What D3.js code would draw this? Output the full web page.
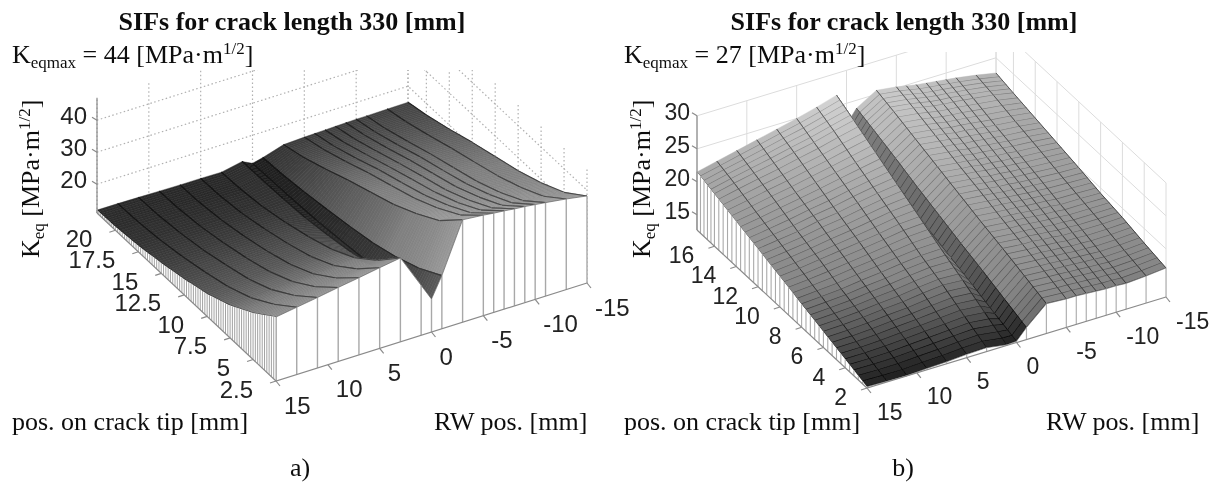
<!DOCTYPE html>
<html><head><meta charset="utf-8">
<script src="https://cdn.jsdelivr.net/npm/d3@7"></script>
<style>html,body{margin:0;background:#fff}svg{display:block}</style></head>
<body><svg id="c" width="1218" height="484"></svg>
<script>
// --- data ---
const title = "SIFs for crack length 330 [mm]";
const rwPositions = [15,13,11,9,7,5,3,1,0,-1,-3,-5,-6,-7,-8,-9,-10,-11,-13,-15];
const rwTicks = [15,10,5,0,-5,-10,-15];

const crackRowsA = [22,20,17.5,15,12.5,10,7.5,5,2.5];
const crackTicksA = [2.5,5,7.5,10,12.5,15,17.5,20];
const keqTicksA = [20,30,40];
const keqA = [
 [11.9,12.1,12.9,14.2,15.9,18,21.1,25.5,31],
 [11.9,12.1,12.9,14.3,16.1,18.3,21.5,26.2,32],
 [11.8,12,12.9,14.3,16.3,18.6,22,26.9,33],
 [11.7,11.9,12.8,14.4,16.4,18.9,22.5,27.6,34.1],
 [11.6,11.8,12.8,14.4,16.5,19.1,22.9,28.3,35.1],
 [11.6,11.8,12.8,14.6,16.8,19.5,23.4,29.1,36.2],
 [11.5,11.8,12.8,14.6,16.9,19.7,23.8,29.7,37.2],
 [12.8,12.9,13.2,13.8,15,16.5,19,22.5,26.6],
 [11.2,11.4,11.7,12.2,13,14,15.5,17.8,21.3],
 [12,12.4,13.4,14.6,16,17.6,20,23.2,27.6],
 [14,15.7,18.6,21.8,24.7,27.6,31.4,36,43],
 [14.3,16,18.8,21.9,24.7,27.5,31.2,35.7,42.4],
 [14.4,16,18.8,21.9,24.6,27.4,31,35.4,42],
 [14.5,16.1,18.9,21.8,24.6,27.3,30.8,35.2,41.7],
 [14.6,16.2,18.9,21.8,24.5,27.1,30.6,34.9,41.3],
 [14.7,16.3,18.9,21.8,24.4,27,30.5,34.7,41],
 [14.8,16.3,18.9,21.8,24.3,26.9,30.3,34.4,40.6],
 [14.8,16.3,18.9,21.7,24.2,26.7,30,34.1,40.2],
 [14.9,16.4,18.8,21.5,23.9,26.4,29.5,33.4,39.3],
 [15,16.4,18.7,21.3,23.6,25.9,28.9,32.6,38.2]
];

const crackRowsB = [17.6,16,14,12,10,8,6,4,2];
const crackTicksB = [2,4,6,8,10,12,14,16];
const keqTicksB = [15,20,25,30];
const keqB = [
 [21.5,20.6,19.5,18.4,17.3,16.2,15.1,14,12.9],
 [22.2,21.3,20,18.8,17.6,16.4,15.2,14,12.8],
 [22.9,21.9,20.6,19.2,18,16.6,15.4,14.1,12.75],
 [23.6,22.5,21.1,19.8,18.4,17,15.7,14.3,12.9],
 [24.3,23.2,21.7,20.2,18.8,17.3,15.9,14.5,13],
 [25,23.8,22.3,20.8,19.2,17.7,16.3,14.7,13.2],
 [25.8,24.6,22.9,21.3,19.7,18,16.6,14.9,13.3],
 [26.7,25.3,23.5,21.7,19.9,18.1,16.4,14.6,12.8],
 [21.8,20.9,19.8,18.6,17.4,16.3,15.2,14,12.9],
 [23.8,22.9,21.7,20.4,19.2,18,16.9,15.7,14.5],
 [25.6,24.8,23.7,22.6,21.5,20.4,19.4,18.3,17.2],
 [25.2,24.4,23.3,22.2,21.2,20.1,19.1,18.1,17],
 [24.9,24.1,23.1,22.1,21,20,19.1,18,17],
 [24.6,23.8,22.8,21.8,20.8,19.9,18.9,17.9,16.9],
 [24.4,23.6,22.7,21.7,20.7,19.7,18.8,17.8,16.8],
 [24.2,23.5,22.5,21.5,20.5,19.6,18.6,17.7,16.7],
 [24,23.3,22.3,21.4,20.4,19.5,18.6,17.6,16.7],
 [23.8,23.1,22.1,21.2,20.3,19.3,18.5,17.5,16.6],
 [23.3,22.7,21.8,21,20.1,19.3,18.5,17.6,16.8],
 [22.7,22.1,21.4,20.7,20,19.2,18.6,17.8,17.1]
];

// --- drawing ---
const svg = d3.select("#c");
const sans = "'Liberation Sans',Arial,sans-serif", serif = "'Liberation Serif','Times New Roman',serif";
const defs = svg.append("defs");
const addBlur=(id,s)=>defs.append("filter").attr("id",id).attr("x","-5%").attr("y","-5%").attr("width","110%").attr("height","110%")
  .append("feGaussianBlur").attr("stdDeviation",s);
addBlur("softa",0.6); addBlur("softb",0.4); addBlur("softT",0.35);

function panel(o){
  const ux = d3.scaleLinear().domain([15,-15]).range([0,1]);
  const uy = d3.scaleLinear().domain(o.yDomain).range([0,1]);
  const uz = d3.scaleLinear().domain([o.z0,o.z0+1]).range([0,o.zUnit]);
  const P = (x,y,z)=>{
    const a=ux(x), b=uy(y);
    return [o.near[0]+a*o.xv[0]+b*o.yv[0], o.near[1]+a*o.xv[1]+b*o.yv[1]-uz(z)];
  };
  const line = d3.line();
  const rows=o.rows, Z=o.z, xs=rwPositions;
  const yMax=o.yDomain[1], xFar=-15, xNear=15, zTop=o.zTop;
  const clipId="clip"+o.id;
  defs.append("clipPath").attr("id",clipId).append("rect").attr("x",o.near[0]-300).attr("y",o.clipTop).attr("width",620).attr("height",400);
  const root = svg.append("g").attr("filter",`url(#soft${o.id})`);

  // back walls
  const grid = root.append("g").attr("clip-path",`url(#${clipId})`).attr("fill","none")
     .attr("stroke",o.gridColor).attr("stroke-width",o.gridWidth).attr("stroke-dasharray",o.gridDash);
  o.zTicks.forEach(z=>{
    grid.append("path").attr("d",line([P(xNear,yMax,z),P(xFar,yMax,z),P(xFar,o.yDomain[0],z)]));
  });
  rwTicks.forEach(x=>{ grid.append("path").attr("d",line([P(x,yMax,o.z0),P(x,yMax,zTop)])); });
  o.yTicks.forEach(y=>{ grid.append("path").attr("d",line([P(xFar,y,o.z0),P(xFar,y,zTop)])); });
  grid.append("path").attr("d",line([P(xFar,yMax,o.z0),P(xFar,yMax,zTop)]));

  // surface cells, painted from far to near
  const sg = root.append("g");
  const gray = d3.scaleLinear().domain(o.grayDomain).range(o.grayRange).clamp(true);
  const col = g=>{const v=Math.max(0,Math.min(255,Math.round(g)));return `rgb(${v},${v},${v})`;};
  const mid=(p,q,t)=>[p[0]+(q[0]-p[0])*t,p[1]+(q[1]-p[1])*t];
  for(let j=0;j<rows.length-1;j++){
    for(let i=xs.length-2;i>=0;i--){
      const A=P(xs[i],rows[j],Z[i][j]), B=P(xs[i+1],rows[j],Z[i+1][j]);
      const C=P(xs[i],rows[j+1],Z[i][j+1]), D=P(xs[i+1],rows[j+1],Z[i+1][j+1]);
      const avgT=(Z[i][j]+Z[i+1][j])/2, avgB=(Z[i][j+1]+Z[i+1][j+1])/2;
      const face = (xs[i]<=o.bandFrom && xs[i+1]>=o.bandTo) ? o.bandK : 1;
      for(let k=0;k<o.strips;k++){
        const t0=k/o.strips,t1=(k+1)/o.strips;
        const a0=mid(A,C,t0),b0=mid(B,D,t0),a1=mid(A,C,t1),b1=mid(B,D,t1);
        const g=gray(avgT+(avgB-avgT)*(t0+t1)/2)*face;
        sg.append("path").attr("d",line([a0,b0,b1,a1])+"Z")
          .attr("fill",col(g+o.fillLift)).attr("stroke",col(g+o.fillLift)).attr("stroke-width",0.4);
        sg.append("path").attr("d",line([a1,b1])).attr("fill","none")
          .attr("stroke",col(g+o.hatchDrop)).attr("stroke-width",o.hatchWidth);
      }
      const gm=gray((avgT+avgB)/2)*o.meshK;
      sg.append("path").attr("d",line([A,C])).attr("fill","none").attr("stroke",col(gm)).attr("stroke-width",o.meshWidth);
      sg.append("path").attr("d",line([B,D])).attr("fill","none").attr("stroke",col(gm)).attr("stroke-width",o.meshWidth);
    }
  }

  // skirts: front wall and left wall
  const last=rows.length-1, yFront=rows[last];
  const fw = root.append("g");
  const frontTop = xs.map((x,i)=>P(x,yFront,Z[i][last]));
  fw.append("path").attr("d",line(frontTop.concat([P(-15,yFront,o.z0),P(15,yFront,o.z0)]))+"Z").attr("fill","#fff");
  xs.forEach((x,i)=>{
    fw.append("path").attr("d",line([frontTop[i],P(x,yFront,o.z0)])).attr("stroke",o.wallColor).attr("stroke-width",o.wallWidth);
  });
  const leftPts=[];
  for(let j=0;j<rows.length-1;j++){
    for(let k=0;k<o.strips;k++){
      const t=k/o.strips;
      leftPts.push([rows[j]+(rows[j+1]-rows[j])*t, Z[0][j]+(Z[0][j+1]-Z[0][j])*t]);
    }
  }
  leftPts.push([yFront,Z[0][last]]);
  fw.append("path").attr("d",line(leftPts.map(p=>P(15,p[0],p[1])).concat([P(15,yFront,o.z0),P(15,rows[0],o.z0)]))+"Z").attr("fill","#fff");
  leftPts.forEach(p=>{
    fw.append("path").attr("d",line([P(15,p[0],p[1]),P(15,p[0],o.z0)])).attr("stroke",o.leftWall).attr("stroke-width",o.leftWidth);
  });
  fw.append("path").attr("d",line(frontTop)).attr("fill","none").attr("stroke",o.edge).attr("stroke-width",0.7);

  // axes
  const ax = root.append("g").attr("stroke","#8a8a8a").attr("stroke-width",1.2).attr("fill","none");
  ax.append("path").attr("d",line([P(15,yMax,o.z0),P(15,yFront,o.z0),P(-15,yFront,o.z0)]));
  ax.append("path").attr("d",line([P(15,yMax,o.z0),P(15,yMax,zTop)]));
  const tick=(p,d)=>ax.append("path").attr("d",line([p,[p[0]+d[0],p[1]+d[1]]]));
  const tx=svg.append("g").attr("filter","url(#softT)").attr("fill","#222").attr("font-family",sans).attr("font-size",o.tickSize);
  o.zTicks.filter(z=>z<=zTop).forEach(z=>{
    const p=P(15,yMax,z); tick(p,[-5,-3]);
    tx.append("text").attr("x",p[0]+o.zLab[0]).attr("y",p[1]+o.zLab[1]).attr("text-anchor","end").attr("dominant-baseline","central").text(z);
  });
  o.yTicks.forEach(y=>{
    const p=P(15,y,o.z0); tick(p,[-6,2]);
    tx.append("text").attr("x",p[0]+o.yLab[0]).attr("y",p[1]+o.yLab[1]).attr("text-anchor","end").attr("dominant-baseline","central").text(y);
  });
  rwTicks.forEach(x=>{
    const p=P(x,yFront,o.z0); tick(p,[4,5]);
    tx.append("text").attr("x",p[0]+o.xLab[0]).attr("y",p[1]+o.xLab[1]).attr("text-anchor","start").attr("dominant-baseline","central").text(x);
  });

  // texts
  const T=svg.append("g").attr("filter","url(#softT)").attr("fill","#111").attr("font-family",serif);
  T.append("text").attr("x",o.titleX).attr("y",30).attr("text-anchor","middle").attr("font-weight","bold").attr("font-size",26).text(title);
  const k=T.append("text").attr("x",o.keqX).attr("y",63).attr("font-size",26);
  k.append("tspan").text("K");
  k.append("tspan").attr("font-size",17).attr("dy",5).text("eqmax");
  k.append("tspan").attr("dy",-5).text(" = "+o.keqMax+" [MPa·m");
  k.append("tspan").attr("font-size",17).attr("dy",-9).text("1/2");
  k.append("tspan").attr("dy",9).text("]");
  const zl=T.append("text").attr("transform",`translate(${o.zTitle[0]},${o.zTitle[1]}) rotate(-90)`).attr("font-size",26);
  zl.append("tspan").text("K");
  zl.append("tspan").attr("font-size",17).attr("dy",5).text("eq");
  zl.append("tspan").attr("dy",-5).text(" [MPa·m");
  zl.append("tspan").attr("font-size",17).attr("dy",-9).text("1/2");
  zl.append("tspan").attr("dy",9).text("]");
  T.append("text").attr("x",o.posX).attr("y",430).attr("font-size",26).text("pos. on crack tip [mm]");
  T.append("text").attr("x",o.rwX).attr("y",430).attr("font-size",26).text("RW pos. [mm]");
  T.append("text").attr("x",o.capX).attr("y",476).attr("text-anchor","middle").attr("font-size",26).text(o.cap);
}

panel({id:"a",near:[276,381],xv:[311,-98],yv:[-179,-168],yDomain:[2.5,22],z0:11,zTop:47,zUnit:3.2,
  rows:crackRowsA,z:keqA,zTicks:keqTicksA,yTicks:crackTicksA,clipTop:70,
  gridColor:"#b0b0b0",gridWidth:1.2,gridDash:"1.5,2.5",
  grayDomain:[11,16,25,44],grayRange:[35,72,125,172],bandFrom:1,bandTo:-1,bandK:0.72,fillLift:3,hatchDrop:-12,hatchWidth:0.5,strips:10,meshK:0.5,meshWidth:1.1,
  wallColor:"#a8a8a8",wallWidth:1.4,leftWall:"#999",leftWidth:0.9,edge:"#666",tickSize:24,
  zLab:[-10,-4.5],yLab:[-23,8],xLab:[8,24],
  titleX:292,keqX:12,zTitle:[39,258],posX:12,rwX:434,capX:300,cap:"a)",keqMax:44});

panel({id:"b",near:[867,388],xv:[299,-91],yv:[-170,-158],yDomain:[2,17.6],z0:12.7,zTop:30,zUnit:6.6,
  rows:crackRowsB,z:keqB,zTicks:keqTicksB,yTicks:crackTicksB,clipTop:52,
  gridColor:"#dcdcdc",gridWidth:1,gridDash:"none",
  grayDomain:[12.7,15,17,22,27],grayRange:[8,68,112,150,195],bandFrom:0,bandTo:-1,bandK:0.68,fillLift:22,hatchDrop:-45,hatchWidth:1.2,strips:5,meshK:0.55,meshWidth:1,
  wallColor:"#b0b0b0",wallWidth:1.2,leftWall:"#aaa",leftWidth:1.1,edge:"#777",tickSize:23,
  zLab:[-7,-3.5],yLab:[-20,9],xLab:[10,23.5],
  titleX:904,keqX:624,zTitle:[650,258],posX:624,rwX:1046,capX:903,cap:"b)",keqMax:27});
</script></body></html>
